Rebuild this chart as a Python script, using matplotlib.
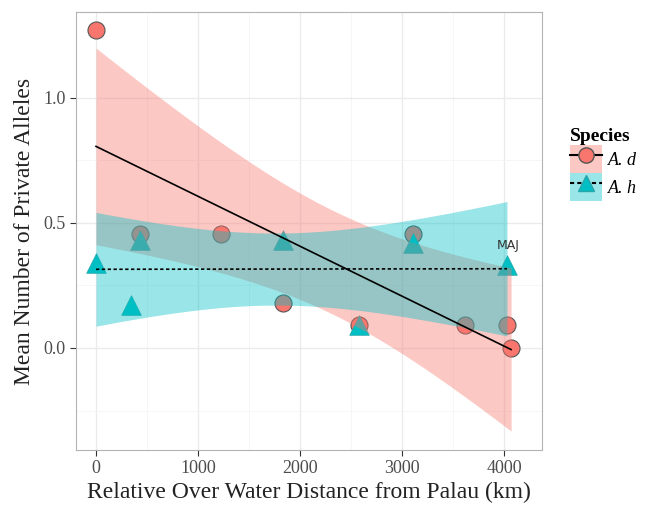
import numpy as np
import matplotlib
matplotlib.use('Agg')
from matplotlib import pyplot as plt
from matplotlib.patches import Patch
from matplotlib.lines import Line2D

### Data
ad_dist = [0, 430, 1230, 1830, 2580, 3110, 3620, 4030, 4070]
ad_alleles = [1.27, 0.455, 0.455, 0.18, 0.09, 0.455, 0.09, 0.09, 0.0]
ah_dist = [0, 343, 430, 1830, 2580, 3110, 4030]
ah_alleles = [0.34, 0.17, 0.43, 0.43, 0.09, 0.42, 0.33]
species = ['A. d', 'A. h']
colours = ['#F8766D', '#00BFC4']
t975 = {7: 2.3646, 5: 2.5706}  # t quantiles for the 95% band

plt.rcParams['font.family'] = ['Liberation Serif', 'DejaVu Serif']

def lm_band(x, y):
    x = np.asarray(x, float); y = np.asarray(y, float)
    n = len(x)
    b, a = np.polyfit(x, y, 1)
    xs = np.linspace(x.min(), x.max(), 80)
    fit = a + b*xs
    s = np.sqrt(np.sum((y - (a + b*x))**2)/(n - 2))
    se = s*np.sqrt(1/n + (xs - x.mean())**2/np.sum((x - x.mean())**2))
    return xs, fit, fit - t975[n-2]*se, fit + t975[n-2]*se

fig = plt.figure(figsize=(6.47, 5.14), dpi=100)
ax = fig.add_axes([0.1175, 0.1245, 0.7202, 0.8522])

dash = (0, (2, 1.5))

# points first, smooth on top (as in the original)
ax.scatter(ad_dist, ad_alleles, s=150, marker='o', color=colours[0], edgecolor='#555555', linewidth=0.8, zorder=2)
ax.scatter(ah_dist, ah_alleles, s=200, marker='^', color=colours[1], edgecolor='#2aa5a8', linewidth=0.5, zorder=2)

for (x, y), c, ls in zip([(ad_dist, ad_alleles), (ah_dist, ah_alleles)], colours, ['-', dash]):
    xs, fit, lo, hi = lm_band(x, y)
    ax.fill_between(xs, lo, hi, color=c, alpha=0.4, linewidth=0, zorder=3)
    ax.plot(xs, fit, color='black', linestyle=ls, linewidth=1.2, zorder=4)

ax.text(4040, 0.385, 'MAJ', fontsize=9, family='DejaVu Sans', color='#333333', ha='center', va='bottom', zorder=5)

ax.set_xlim(-196, 4373)
ax.set_ylim(-0.408, 1.344)
ax.set_xticks([0, 1000, 2000, 3000, 4000])
ax.set_xticks([500, 1500, 2500, 3500], minor=True)
ax.set_yticks([0.0, 0.5, 1.0])
ax.set_yticklabels(['0.0', '0.5', '1.0'])
ax.set_yticks([-0.25, 0.25, 0.75], minor=True)
ax.grid(which='major', color='#ebebeb', linewidth=1.0, zorder=0)
ax.grid(which='minor', color='#f5f5f5', linewidth=0.6, zorder=0)
ax.set_axisbelow(True)
for sp in ax.spines.values():
    sp.set_color('#b3b3b3')
ax.tick_params(which='major', length=4, color='#333333', labelsize=13, labelcolor='#4d4d4d')
ax.tick_params(which='minor', length=0)
ax.set_xlabel('Relative Over Water Distance from Palau (km)', fontsize=17, color='#222222', labelpad=3)
ax.set_ylabel('Mean Number of Private Alleles', fontsize=17, color='#222222', labelpad=6)

handles = [
    (Patch(facecolor=colours[0], alpha=0.4, edgecolor='none'),
     Line2D([], [], color='black', linestyle='-', marker='o', markersize=11,
            markerfacecolor=colours[0], markeredgecolor='#555555')),
    (Patch(facecolor=colours[1], alpha=0.4, edgecolor='none'),
     Line2D([], [], color='black', linestyle=dash, marker='^', markersize=12,
            markerfacecolor=colours[1], markeredgecolor='#2aa5a8')),
]
leg = fig.legend(handles, species, loc='upper left', bbox_to_anchor=(0.861, 0.775),
                 frameon=False, title='Species', handlelength=1.8, handleheight=2.0,
                 handletextpad=0.3, labelspacing=0.0, borderpad=0.2,
                 prop={'style': 'italic', 'size': 13})
leg.get_title().set_fontweight('bold')
leg.get_title().set_fontsize(14)
leg._legend_box.align = 'left'

fig.savefig('out.png', dpi=100)
